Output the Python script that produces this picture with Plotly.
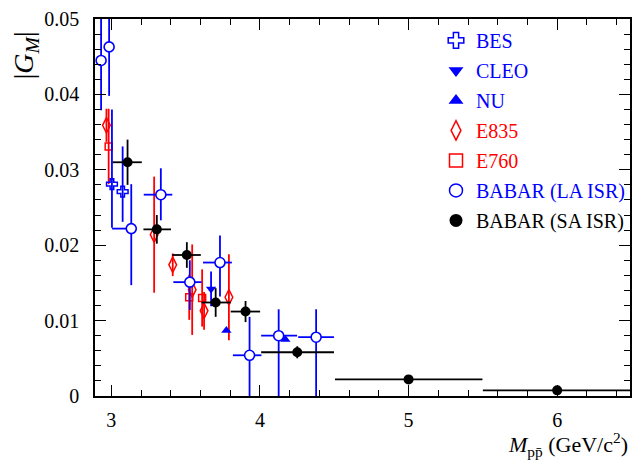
import plotly.graph_objects as go

BLUE = "#0000ff"
RED = "#ff0000"
BLACK = "#000000"
FONT = "Liberation Serif, Times New Roman, Times, serif"

# ---- data ----
bes_x = [3.004, 3.076]
bes_y = [0.0281, 0.0271]
bes_ep = [0.0099, 0.0060]
bes_em = [0.0058, 0.0040]

cleo_x = [3.671]
cleo_y = [0.0142]
cleo_e = [0.0023]

nu_x = [3.774, 4.171]
nu_y = [0.0087, 0.0075]

e835_x = [2.967, 3.288, 3.413, 3.544, 3.624, 3.791]
e835_y = [0.0359, 0.0214, 0.0174, 0.0141, 0.0113, 0.0131]
e835_e = [0.0022, 0.0077, 0.0015, 0.0060, 0.0025, 0.0057]

e760_x = [2.982, 3.524, 3.611]
e760_y = [0.0331, 0.0131, 0.0130]
e760_e = [0.0050, 0.0030, 0.0038]

la_x = [2.931, 2.985, 3.134, 3.333, 3.528, 3.731, 3.930, 4.126, 4.378]
la_y = [0.0445, 0.0463, 0.0222, 0.0267, 0.0151, 0.0177, 0.0054, 0.0080, 0.0078]
la_ep = [0.0066, 0.0065, 0.0059, 0.0035, 0.0029, 0.0036, 0.0051, 0.0035, 0.0037]
la_em = [0.0066, 0.0065, 0.0075, 0.0034, 0.0037, 0.0045, 0.0054, 0.0080, 0.0078]
la_lo = [2.931, 2.985, 3.005, 3.218, 3.417, 3.617, 3.818, 4.008, 4.257]
la_hi = [2.931, 2.985, 3.172, 3.410, 3.607, 3.811, 4.010, 4.250, 4.498]

sa_x = [3.109, 3.306, 3.508, 3.702, 3.903, 4.251, 5.0, 6.0]
sa_y = [0.0310, 0.0221, 0.0187, 0.0124, 0.0112, 0.0058, 0.0022, 0.00075]
sa_e = [0.0030, 0.0019, 0.0017, 0.0019, 0.0014, 0.0008, 0.0003, 0.0002]
sa_lo = [3.009, 3.216, 3.410, 3.607, 3.803, 4.008, 4.505, 5.500]
sa_hi = [3.205, 3.401, 3.602, 3.803, 4.001, 4.498, 5.497, 6.500]

x_ticks = [3, 4, 5, 6]
y_ticks = [0, 0.01, 0.02, 0.03, 0.04, 0.05]
y_ticktext = ["0", "0.01", "0.02", "0.03", "0.04", "0.05"]

fig = go.Figure()

def ey(col, plus, minus=None):
    d = dict(type="data", array=plus, color=col, thickness=1.8, width=0, visible=True)
    if minus is not None:
        d["symmetric"] = False
        d["arrayminus"] = minus
    return d

def ex(col, x, lo, hi):
    return dict(type="data", symmetric=False,
                array=[h - c for c, h in zip(x, hi)],
                arrayminus=[c - l for c, l in zip(x, lo)],
                color=col, thickness=1.8, width=0, visible=True)

# data traces
fig.add_trace(go.Scatter(x=e835_x, y=e835_y, mode="markers", showlegend=False,
    error_y=ey(RED, e835_e),
    marker=dict(symbol="diamond-tall-open", size=11, color=RED, line=dict(width=1.5, color=RED))))
fig.add_trace(go.Scatter(x=e760_x, y=e760_y, mode="markers", showlegend=False,
    error_y=ey(RED, e760_e),
    marker=dict(symbol="square-open", size=7, color=RED, line=dict(width=1.5, color=RED))))
fig.add_trace(go.Scatter(x=bes_x, y=bes_y, mode="markers", showlegend=False,
    error_y=ey(BLUE, bes_ep, bes_em),
    marker=dict(symbol="cross-open", size=9, color=BLUE, line=dict(width=1.5, color=BLUE))))
fig.add_trace(go.Scatter(x=cleo_x, y=cleo_y, mode="markers", showlegend=False,
    error_y=ey(BLUE, cleo_e),
    marker=dict(symbol="triangle-down", size=9, color=BLUE)))
fig.add_trace(go.Scatter(x=nu_x, y=nu_y, mode="markers", showlegend=False,
    marker=dict(symbol="triangle-up", size=9, color=BLUE)))
fig.add_trace(go.Scatter(x=la_x, y=la_y, mode="markers", showlegend=False,
    error_y=ey(BLUE, la_ep, la_em), error_x=ex(BLUE, la_x, la_lo, la_hi),
    marker=dict(symbol="circle", size=10, color="white", line=dict(width=1.6, color=BLUE))))
fig.add_trace(go.Scatter(x=sa_x, y=sa_y, mode="markers", showlegend=False,
    error_y=ey(BLACK, sa_e), error_x=ex(BLACK, sa_x, sa_lo, sa_hi),
    marker=dict(symbol="circle", size=10, color=BLACK)))

# legend entries
legend_items = [
    ("BES", BLUE, dict(symbol="cross-open", size=13, color=BLUE, line=dict(width=1.5, color=BLUE))),
    ("CLEO", BLUE, dict(symbol="triangle-down", size=13, color=BLUE)),
    ("NU", BLUE, dict(symbol="triangle-up", size=13, color=BLUE)),
    ("E835", RED, dict(symbol="diamond-tall-open", size=14, color=RED, line=dict(width=1.5, color=RED))),
    ("E760", RED, dict(symbol="square-open", size=13, color=RED, line=dict(width=1.5, color=RED))),
    ("BABAR (LA ISR)", BLUE, dict(symbol="circle-open", size=13, color=BLUE, line=dict(width=1.5, color=BLUE))),
    ("BABAR (SA ISR)", BLACK, dict(symbol="circle", size=13, color=BLACK)),
]
for i, (name, col, mk) in enumerate(legend_items):
    fig.add_trace(go.Scatter(x=[None], y=[None], mode="markers",
        name=f"<span style='color:{col}'>{name}</span>",
        legendgroup=f"g{i}", marker=mk))

axis_common = dict(
    showline=True, linecolor=BLACK, linewidth=1.5, mirror="allticks",
    ticks="inside", ticklen=11, tickwidth=1.2, tickcolor=BLACK,
    showgrid=False, zeroline=False,
    tickfont=dict(family=FONT, size=20, color=BLACK),
)

fig.update_xaxes(range=[2.89, 6.49], tickvals=x_ticks, ticklabelstandoff=5,
    minor=dict(dtick=0.2, ticks="inside", ticklen=6, tickwidth=1.2, tickcolor=BLACK, tick0=3),
    **axis_common)
fig.update_yaxes(range=[0, 0.05], tickvals=y_ticks, ticktext=y_ticktext, ticklabelstandoff=10,
    minor=dict(dtick=0.002, ticks="inside", ticklen=6, tickwidth=1.2, tickcolor=BLACK, tick0=0),
    **axis_common)

fig.update_layout(
    width=634, height=462,
    margin=dict(l=95, r=2, t=19, b=66),
    plot_bgcolor="white", paper_bgcolor="white",
    font=dict(family=FONT, size=20, color=BLACK),
    legend=dict(x=1.0, y=0.995, xanchor="right", yanchor="top",
                bgcolor="rgba(0,0,0,0)", borderwidth=0,
                traceorder="grouped", tracegroupgap=1,
                font=dict(family=FONT, size=20)),
    annotations=[
        dict(text="|<i>G</i><sub><i>M</i></sub>|", xref="paper", yref="paper",
             x=-0.13, y=0.905, textangle=-90, showarrow=False,
             xanchor="center", yanchor="middle",
             font=dict(family=FONT, size=28, color=BLACK)),
        dict(text="<i>M</i><sub>pp\u0304</sub> (GeV/c<sup>2</sup>)", xref="paper", yref="paper",
             x=1.0, y=-0.128, showarrow=False, xanchor="right", yanchor="middle",
             font=dict(family=FONT, size=22, color=BLACK)),
    ],
)

fig.write_html("out.html")
